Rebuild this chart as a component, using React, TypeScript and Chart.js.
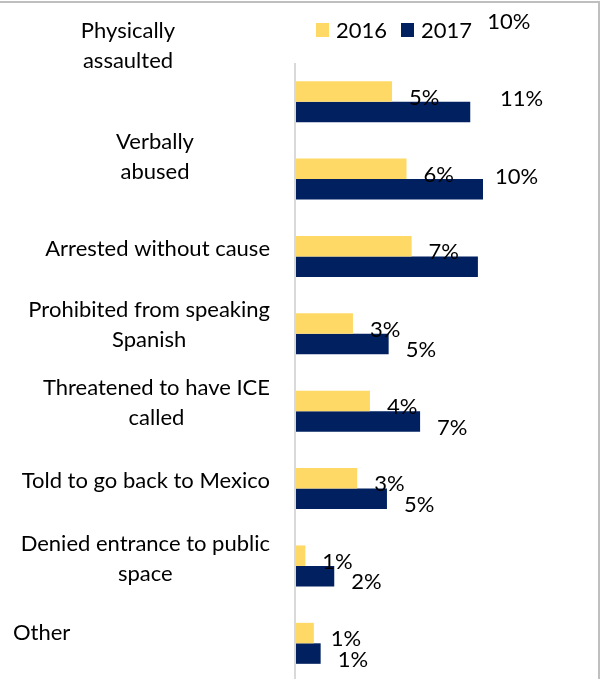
import React, { useEffect, useRef } from "react";
import { Chart, registerables } from "chart.js";

Chart.register(...registerables);

// ---- data ----
const categories: string[][] = [
  ["Physically", "assaulted"],
  ["Verbally", "abused"],
  ["Arrested without cause"],
  ["Prohibited from speaking", "Spanish"],
  ["Threatened to have ICE", "called"],
  ["Told to go back to Mexico"],
  ["Denied entrance to public", "space"],
  ["Other"],
];
const seriesNames = ["2016", "2017"];
const values2016 = [5.65, 6.5, 6.8, 3.35, 4.35, 3.6, 0.55, 1.05];
const values2017 = [10.25, 11.0, 10.7, 5.45, 7.3, 5.35, 2.25, 1.45];
const labels2016 = ["5%", "6%", "7%", "3%", "4%", "3%", "1%", "1%"];
const labels2017 = ["10%", "11%", "10%", "5%", "7%", "5%", "2%", "1%"];
const axisMin = 0;
const axisMax = 16;

// ---- styles ----
const COLOR_2016 = "#FFD966";
const COLOR_2017 = "#002060";
const FONT = "Lato, 'DejaVu Sans', sans-serif";
const FONT_SIZE = 22;

// category label layout: anchor, x, vertical offset from group centre
const catLayout = [
  { anchor: "center", x: 128, dy: -56 },
  { anchor: "center", x: 155, dy: -22 },
  { anchor: "right", x: 270, dy: -8 },
  { anchor: "right", x: 270, dy: -9 },
  { anchor: "right", x: 270, dy: -8.5 },
  { anchor: "right", x: 270, dy: -8 },
  { anchor: "right", x: 270, dy: -7.5 },
  { anchor: "left", x: 13, dy: -10 },
];
// 2017 labels of the first groups are displaced upward in the original
const shift2017 = [true, true, true, false, false, false, false, false];

const overlayPlugin = {
  id: "overlay",
  beforeDraw(chart: any) {
    const ctx = chart.ctx;
    ctx.save();
    ctx.fillStyle = "#ffffff";
    ctx.fillRect(0, 0, chart.width, chart.height);
    ctx.strokeStyle = "#BFBFBF";
    ctx.lineWidth = 2;
    ctx.beginPath();
    ctx.moveTo(0, 2);
    ctx.lineTo(600, 2);
    ctx.moveTo(599, 1);
    ctx.lineTo(599, chart.height);
    ctx.stroke();
    ctx.restore();
  },
  beforeDatasetsDraw(chart: any) {
    const ctx = chart.ctx;
    const a = chart.chartArea;
    ctx.save();
    ctx.strokeStyle = "#D9D9D9";
    ctx.lineWidth = 2;
    ctx.beginPath();
    ctx.moveTo(a.left - 1, a.top);
    ctx.lineTo(a.left - 1, chart.height);
    ctx.stroke();
    ctx.restore();
  },
  afterDatasetsDraw(chart: any) {
    const ctx = chart.ctx;
    const yScale = chart.scales.y;
    ctx.save();
    ctx.font = `${FONT_SIZE}px ${FONT}`;
    ctx.fillStyle = "#000000";
    ctx.textBaseline = "middle";

    // value labels
    const m16 = chart.getDatasetMeta(0).data;
    const m17 = chart.getDatasetMeta(1).data;
    ctx.textAlign = "left";
    m16.forEach((el: any, i: number) => {
      ctx.fillText(labels2016[i], el.x + 17, el.y + 6);
    });
    m17.forEach((el: any, i: number) => {
      const dy = shift2017[i] ? -90 : 6;
      ctx.fillText(labels2017[i], el.x + 17, el.y + dy);
    });

    // category labels
    const lineH = 30;
    categories.forEach((lines, i) => {
      const L = catLayout[i];
      const cy = yScale.getPixelForValue(i) + L.dy;
      const widths = lines.map((t) => ctx.measureText(t).width);
      const w = Math.max(...widths);
      let cx: number;
      if (L.anchor === "right") cx = L.x - w / 2;
      else if (L.anchor === "left") cx = L.x + w / 2;
      else cx = L.x;
      const y0 = cy - ((lines.length - 1) * lineH) / 2;
      ctx.textAlign = "center";
      lines.forEach((t, k) => ctx.fillText(t, cx, y0 + k * lineH));
    });

    // legend
    const colors = [COLOR_2016, COLOR_2017];
    let lx = 316;
    const ly = 30;
    ctx.textAlign = "left";
    seriesNames.forEach((name, k) => {
      ctx.fillStyle = colors[k];
      ctx.fillRect(lx, ly - 7, 13, 14);
      ctx.fillStyle = "#000000";
      ctx.fillText(name, lx + 20, ly + 1);
      lx += 85;
    });
    ctx.restore();
  },
};

export default function App() {
  const ref = useRef<HTMLCanvasElement | null>(null);
  useEffect(() => {
    if (!ref.current) return;
    const chart = new Chart(ref.current, {
      type: "bar",
      data: {
        labels: categories.map((c) => c.join(" ")),
        datasets: [
          {
            label: seriesNames[0],
            data: values2016,
            backgroundColor: COLOR_2016,
            categoryPercentage: 0.53,
            barPercentage: 1.0,
          },
          {
            label: seriesNames[1],
            data: values2017,
            backgroundColor: COLOR_2017,
            categoryPercentage: 0.53,
            barPercentage: 1.0,
          },
        ],
      },
      options: {
        indexAxis: "y",
        responsive: false,
        animation: false,
        layout: { padding: { left: 296, right: 42, top: 63, bottom: 8 } },
        plugins: {
          legend: { display: false },
          tooltip: { enabled: false },
        },
        scales: {
          x: { display: false, min: axisMin, max: axisMax },
          y: { display: false, offset: true },
        },
      },
      plugins: [overlayPlugin],
    });
    return () => chart.destroy();
  }, []);
  return (
    <div style={{ position: "fixed", left: 0, top: 0, width: 610, height: 690 }}>
      <canvas ref={ref} width={610} height={690} style={{ display: "block" }} />
    </div>
  );
}
